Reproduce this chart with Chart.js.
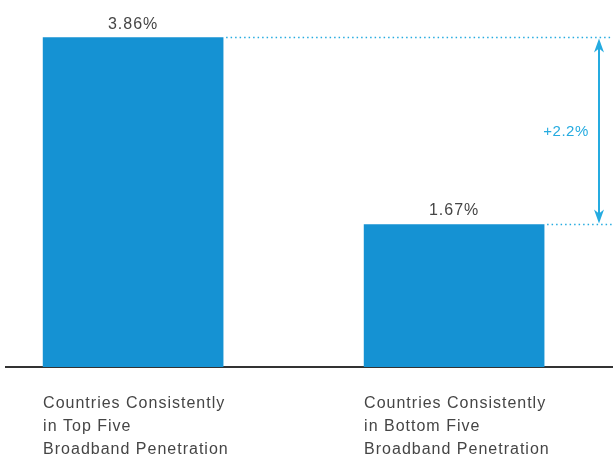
<!DOCTYPE html>
<html>
<head>
<meta charset="utf-8">
<script src="https://cdn.jsdelivr.net/npm/chart.js@4/dist/chart.umd.min.js"></script>
<style>
  body { margin: 0; background: #fff; }
  #wrap { width: 613px; height: 459px; }
</style>
</head>
<body>
<div id="wrap"><canvas id="grafico"></canvas></div>
<script>
// dati
const categorie = [
    ['Countries Consistently', 'in Top Five', 'Broadband Penetration'],
    ['Countries Consistently', 'in Bottom Five', 'Broadband Penetration']
];
const posizioni = [0, 1];
const valori = [3.86, 1.67];
const etichetteValori = ['3.86%', '1.67%'];

const coloreBarre = '#1592d3';
const coloreAzzurro = '#25abe0';
const font = '"Liberation Sans", Helvetica, Arial, sans-serif';

const etichettePlugin = {
    id: 'etichette',
    afterDatasetsDraw(chart) {
        const ctx = chart.ctx;
        const area = chart.chartArea;
        const barre = chart.getDatasetMeta(0).data;
        ctx.save();
        ctx.letterSpacing = '1px';
        ctx.fillStyle = '#454545';

        // valori sopra le barre
        ctx.font = '16px ' + font;
        ctx.textAlign = 'center';
        ctx.textBaseline = 'alphabetic';
        barre.forEach((b, i) => {
            ctx.fillText(etichetteValori[i], b.x, b.y - 9);
        });

        // nomi delle categorie sotto l'asse
        ctx.textAlign = 'left';
        barre.forEach((b, i) => {
            categorie[i].forEach((riga, r) => {
                ctx.fillText(riga, b.x - b.width / 2, area.bottom + 41 + r * 23);
            });
        });

        // linee tratteggiate dalle cime delle barre
        ctx.strokeStyle = coloreAzzurro;
        ctx.lineWidth = 1.5;
        ctx.setLineDash([1.5, 3]);
        barre.forEach(b => {
            ctx.beginPath();
            ctx.moveTo(b.x + b.width / 2 + 3, b.y);
            ctx.lineTo(chart.width, b.y);
            ctx.stroke();
        });
        ctx.setLineDash([]);

        // freccia della differenza
        const xf = chart.width - 14;
        const y1 = barre[0].y + 1, y2 = barre[1].y - 1;
        ctx.lineWidth = 2;
        ctx.beginPath();
        ctx.moveTo(xf, y1 + 8);
        ctx.lineTo(xf, y2 - 8);
        ctx.stroke();
        ctx.fillStyle = coloreAzzurro;
        ctx.beginPath();
        ctx.moveTo(xf, y1);
        ctx.lineTo(xf - 5, y1 + 14);
        ctx.lineTo(xf, y1 + 10);
        ctx.lineTo(xf + 5, y1 + 14);
        ctx.closePath();
        ctx.fill();
        ctx.beginPath();
        ctx.moveTo(xf, y2);
        ctx.lineTo(xf - 5, y2 - 14);
        ctx.lineTo(xf, y2 - 10);
        ctx.lineTo(xf + 5, y2 - 14);
        ctx.closePath();
        ctx.fill();

        const diff = '+' + (valori[0] - valori[1]).toFixed(1) + '%';
        ctx.font = '15px ' + font;
        ctx.letterSpacing = '0.5px';
        ctx.textAlign = 'center';
        ctx.textBaseline = 'middle';
        ctx.fillText(diff, xf - 33, (y1 + y2) / 2 + 1);
        ctx.restore();
    }
};

new Chart(document.getElementById('grafico'), {
    type: 'bar',
    data: {
        datasets: [{
            data: posizioni.map((p, i) => ({ x: p, y: valori[i] })),
            backgroundColor: coloreBarre,
            barThickness: 180,
            borderWidth: 0
        }]
    },
    options: {
        responsive: true,
        maintainAspectRatio: false,
        animation: false,
        layout: { padding: { left: 6, right: 0, top: 0, bottom: 92 } },
        plugins: {
            legend: { display: false },
            tooltip: { enabled: false }
        },
        scales: {
            x: {
                type: 'linear',
                min: -0.396,
                max: 1.495,
                offset: false,
                z: 1,
                grid: { display: false, drawTicks: false, offset: false },
                ticks: { display: false },
                border: { display: true, color: '#333', width: 2 }
            },
            y: {
                display: false,
                min: 0,
                max: 4.3
            }
        }
    },
    plugins: [etichettePlugin]
});
</script>
</body>
</html>
